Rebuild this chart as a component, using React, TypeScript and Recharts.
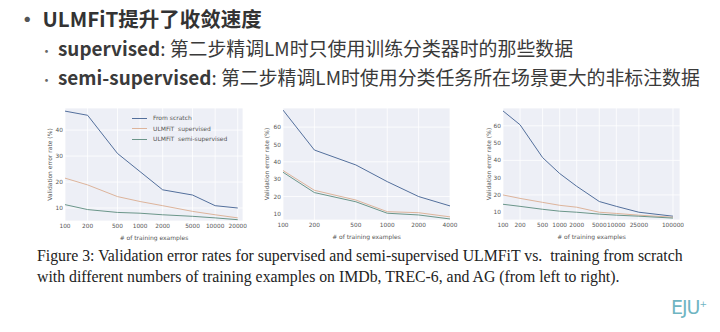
import React from "react";
import { LineChart, Line, XAxis, YAxis, CartesianGrid, Legend, Label } from "recharts";

// IMDb
const imdbX = [100, 200, 500, 1000, 2000, 5000, 10000, 20000];
const imdbScratch = [47.3, 45.7, 31.0, 24.0, 17.0, 15.0, 10.9, 10.0];
const imdbSupervised = [21.5, 18.9, 14.4, 12.5, 10.9, 8.7, 7.4, 6.2];
const imdbSemi = [11.3, 9.4, 8.3, 8.0, 7.4, 6.8, 6.2, 5.5];
const imdbYTicks = [10, 20, 30, 40];

// TREC-6
const trecX = [100, 200, 500, 1000, 2000, 4000];
const trecScratch = [69.8, 46.8, 38.2, 28.6, 20.0, 14.6];
const trecSupervised = [35.0, 23.6, 18.0, 11.3, 10.7, 8.3];
const trecSemi = [34.0, 22.3, 17.0, 10.4, 9.4, 7.1];
const trecYTicks = [10, 20, 30, 40, 50, 60];

// AG
const agX = [100, 200, 500, 1000, 2000, 5000, 10000, 25000, 100000];
const agScratch = [68.6, 60.6, 41.6, 32.4, 25.0, 16.2, 13.4, 10.0, 7.7];
const agSupervised = [20.0, 18.0, 15.7, 14.0, 12.9, 10.0, 9.3, 8.3, 7.1];
const agSemi = [14.6, 13.4, 11.7, 10.6, 10.0, 8.9, 8.3, 7.7, 6.6];
const agYTicks = [10, 20, 30, 40, 50, 60];

const seriesNames = ["From scratch", "ULMFiT  supervised", "ULMFiT  semi-supervised"];
const COLORS = ["#536f9c", "#ddb49b", "#6b968a"];

const tickStyle = { fontSize: 5.8, fill: "#555", fontFamily: "DejaVu Sans" };
const labelStyle = { fontSize: 6, fill: "#555", fontFamily: "DejaVu Sans", textAnchor: "middle" as const };

function LegendBox({ payload }: any) {
  const items = [...(payload || [])].sort((a: any, b: any) => seriesNames.indexOf(a.value) - seriesNames.indexOf(b.value));
  return (
    <div style={{ fontFamily: "DejaVu Sans", fontSize: 6, color: "#555", lineHeight: "10.6px", whiteSpace: "pre" }}>
      {items.map((p: any) => (
        <div key={p.value} style={{ display: "flex", alignItems: "center" }}>
          <span style={{ display: "inline-block", width: 15, borderTop: `1px solid ${p.color}`, marginRight: 6 }} />
          {p.value}
        </div>
      ))}
    </div>
  );
}

interface PanelProps {
  left: number;
  top: number;
  width: number;
  height: number;
  xs: number[];
  scratch: number[];
  supervised: number[];
  semi: number[];
  xDomain: [number, number];
  yDomain: [number, number];
  yTicks: number[];
  yAxisWidth: number;
  yLabelOffset: number;
  right: number;
  legend?: boolean;
}

function Panel(p: PanelProps) {
  const data = p.xs.map((n, i) => ({ n, scratch: p.scratch[i], sup: p.supervised[i], semi: p.semi[i] }));
  return (
    <div style={{ position: "absolute", left: p.left, top: p.top }}>
      <LineChart width={p.width} height={p.height} data={data} margin={{ top: 8, right: p.right, left: 0, bottom: 0 }}>
        <CartesianGrid stroke="#ffffff" strokeWidth={0.8} fill="#edeff6" />
        <XAxis
          dataKey="n"
          type="number"
          scale="log"
          domain={p.xDomain}
          ticks={p.xs}
          allowDataOverflow
          interval={0}
          tick={tickStyle}
          tickLine={false}
          axisLine={false}
          tickSize={0}
          tickMargin={3}
          height={21}
        >
          <Label value="# of training examples" position="insideBottom" offset={2} style={labelStyle} />
        </XAxis>
        <YAxis
          type="number"
          domain={p.yDomain}
          ticks={p.yTicks}
          allowDataOverflow
          width={p.yAxisWidth}
          tick={tickStyle}
          tickLine={false}
          axisLine={false}
          tickSize={0}
          tickMargin={2}
        >
          <Label value="Validation error rate (%)" angle={-90} position="insideLeft" offset={p.yLabelOffset} style={labelStyle} />
        </YAxis>
        {p.legend && (
          <Legend
            layout="vertical"
            align="center"
            verticalAlign="middle"
            content={<LegendBox />}
            wrapperStyle={{ left: 96, top: 13, width: 110, height: 34 }}
          />
        )}
        <Line type="linear" dataKey="scratch" name={seriesNames[0]} stroke={COLORS[0]} strokeWidth={1} dot={false} isAnimationActive={false} />
        <Line type="linear" dataKey="sup" name={seriesNames[1]} stroke={COLORS[1]} strokeWidth={1} dot={false} isAnimationActive={false} />
        <Line type="linear" dataKey="semi" name={seriesNames[2]} stroke={COLORS[2]} strokeWidth={1} dot={false} isAnimationActive={false} />
      </LineChart>
    </div>
  );
}

const cjk = '"Noto Sans CJK SC", "Noto Sans", sans-serif';

export default function App() {
  return (
    <div style={{ position: "fixed", left: 0, top: 0, width: 720, height: 332, background: "#ffffff", overflow: "hidden", color: "#3a3a3a", fontFamily: cjk }}>
      <div style={{ position: "absolute", left: 17, top: 5, fontSize: 20.5, fontWeight: 700, lineHeight: "27px", whiteSpace: "nowrap", color: "#333" }}>
        <span style={{ marginRight: 5, color: "#555" }}>•</span>ULMFiT提升了收敛速度
      </div>
      <div style={{ position: "absolute", left: 40, top: 35, fontSize: 18.9, lineHeight: "25px", whiteSpace: "nowrap" }}>
        <span style={{ marginRight: 5, color: "#666", fontSize: 13 }}>•</span>
        <span style={{ fontWeight: 600 }}>supervised</span>: 第二步精调LM时只使用训练分类器时的那些数据
      </div>
      <div style={{ position: "absolute", left: 40, top: 64, fontSize: 18.9, lineHeight: "25px", whiteSpace: "nowrap" }}>
        <span style={{ marginRight: 5, color: "#666", fontSize: 13 }}>•</span>
        <span style={{ fontWeight: 600 }}>semi-supervised</span>: 第二步精调LM时使用分类任务所在场景更大的非标注数据
      </div>

      <Panel left={36} top={100} width={212} height={142} xs={imdbX} scratch={imdbScratch} supervised={imdbSupervised} semi={imdbSemi}
        xDomain={[100, 23500]} yDomain={[5, 48.5]} yTicks={imdbYTicks} yAxisWidth={29} yLabelOffset={14} right={5} legend />
      <Panel left={258} top={100} width={204} height={141} xs={trecX} scratch={trecScratch} supervised={trecSupervised} semi={trecSemi}
        xDomain={[100, 4000]} yDomain={[6.5, 71]} yTicks={trecYTicks} yAxisWidth={25} yLabelOffset={9} right={12} />
      <Panel left={478} top={100} width={206} height={141} xs={agX} scratch={agScratch} supervised={agSupervised} semi={agSemi}
        xDomain={[100, 133000]} yDomain={[5.5, 70.3]} yTicks={agYTicks} yAxisWidth={25} yLabelOffset={11} right={4} />

      <div style={{ position: "absolute", left: 37, top: 246, fontFamily: '"Liberation Serif", serif', fontSize: 15.8, lineHeight: "20.5px", color: "#222", whiteSpace: "nowrap" }}>
        <div>Figure 3: Validation error rates for supervised and semi-supervised ULMFiT vs.&nbsp; training from scratch</div>
        <div>with different numbers of training examples on IMDb, TREC-6, and AG (from left to right).</div>
      </div>
      <div style={{ position: "absolute", left: 671, top: 296, fontFamily: '"DejaVu Sans", sans-serif', fontSize: 19, color: "#6fb5c2", letterSpacing: -1 }}>
        EJU<sup style={{ fontSize: 9 }}>+</sup>
      </div>
    </div>
  );
}
